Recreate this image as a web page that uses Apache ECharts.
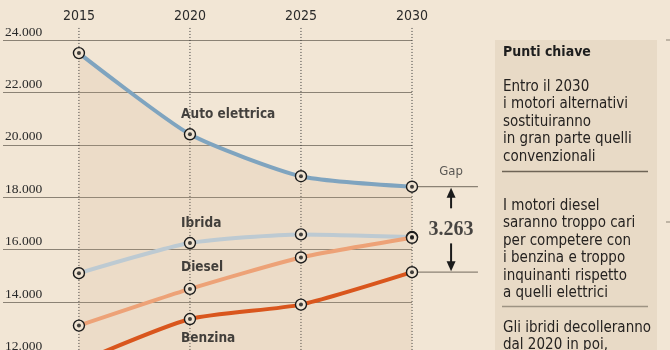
<!DOCTYPE html>
<html>
<head>
<meta charset="utf-8">
<script src="https://cdn.jsdelivr.net/npm/echarts@6/dist/echarts.min.js"></script>
<style>
  html, body { margin: 0; padding: 0; background: #f2e6d5; }
  #main { width: 670px; height: 350px; }
</style>
</head>
<body>
<div id="main"></div>
<script>
// dati
const years = [2015, 2020, 2025, 2030];
const autoElettrica = [23500, 20400, 18800, 18400];
const ibrida = [15100, 16250, 16580, 16480];
const diesel = [13100, 14500, 15700, 16450];
const benzina = [11700, 13350, 13900, 15137];

const seriesNames = ['Auto elettrica', 'Ibrida', 'Diesel', 'Benzina'];
const seriesColors = ['#7fa4bf', '#bdcad2', '#eda277', '#d9561d'];
// posizione delle etichette (anno, valore)
const labelX = [2019.6, 2019.6, 2019.6, 2019.6];
const labelY = [21170, 16990, 15330, 12590];

const yMin = 10000, yMax = 24000, yStep = 2000;
const xMin = 2011.58, xMax = 2030;
const gapX = 2031.76, gapEnd = 2032.97;
const guideTop = 24460;
const arrowFrom = [17576, 16237];

const panelTitle = 'Punti chiave';
const panelBlocks = [
  ['Entro il 2030', 'i motori alternativi', 'sostituiranno', 'in gran parte quelli', 'convenzionali'],
  ['I motori diesel', 'saranno troppo cari', 'per competere con', 'i benzina e troppo', 'inquinanti rispetto', 'a quelli elettrici'],
  ['Gli ibridi decolleranno', 'dal 2020 in poi,']
];

const fmt = v => String(Math.round(v)).replace(/\B(?=(\d{3})+(?!\d))/g, '.');
const gap = autoElettrica[3] - benzina[3];

const allSeries = [autoElettrica, ibrida, diesel, benzina];
const SANS = '"DejaVu Sans Condensed", sans-serif';

const chart = echarts.init(document.getElementById('main'));

const lineSeries = allSeries.map((vals, i) => ({
  type: 'line',
  name: seriesNames[i],
  data: years.map((y, k) => [y, vals[k]]),
  smooth: 0.2,
  clip: false,
  symbol: 'circle',
  symbolSize: 11,
  showSymbol: true,
  z: 3,
  itemStyle: { color: '#efe3d2', borderColor: '#1b1b1b', borderWidth: 1.4 },
  lineStyle: { color: seriesColors[i], width: 4 },
  areaStyle: i === 0 ? { color: 'rgba(200,170,132,0.22)', origin: 'start' } : undefined,
  emphasis: { disabled: true }
}));

const dotSeries = {
  type: 'scatter',
  data: allSeries.flatMap(vals => years.map((y, k) => [y, vals[k]])),
  symbolSize: 4,
  itemStyle: { color: '#151515' },
  z: 5,
  clip: false,
  silent: true
};

const labelSeries = {
  type: 'scatter',
  data: seriesNames.map((n, i) => ({ value: [labelX[i], labelY[i]], name: n })),
  symbolSize: 0,
  z: 6,
  clip: false,
  silent: true,
  label: {
    show: true, position: 'right', distance: 0,
    formatter: p => p.name,
    fontFamily: SANS, fontWeight: 'bold', fontSize: 13.5, color: '#161616'
  }
};

const gapLabels = {
  type: 'scatter',
  data: [
    { value: [gapX, 18963], name: 'Gap', label: { fontFamily: SANS, fontSize: 13, color: '#333' } },
    { value: [gapX, 16772], name: fmt(gap), label: { fontFamily: '"Liberation Serif", serif', fontWeight: 'bold', fontSize: 20, color: '#1b1b1b' } }
  ],
  symbolSize: 0,
  clip: false,
  silent: true,
  label: { show: true, position: 'inside', formatter: p => p.name }
};

const panelGraphic = [
  { type: 'rect', shape: { x: 495, y: 40, width: 162, height: 320 }, style: { fill: '#e8dac6' }, silent: true },
  { type: 'line', shape: { x1: 502, y1: 171.5, x2: 648, y2: 171.5 }, style: { stroke: '#6e6456', lineWidth: 1.5 } },
  { type: 'line', shape: { x1: 502, y1: 306.5, x2: 648, y2: 306.5 }, style: { stroke: '#9d9383', lineWidth: 1.5 } },
  { type: 'line', shape: { x1: 666, y1: 40, x2: 670, y2: 40 }, style: { stroke: '#8b8275', lineWidth: 1 } },
  { type: 'line', shape: { x1: 666, y1: 222, x2: 670, y2: 222 }, style: { stroke: '#8b8275', lineWidth: 1 } },
  { type: 'text', x: 503, y: 45, style: { text: panelTitle, font: 'bold 14px ' + SANS, fill: '#1e1e1e' } },
  ...panelBlocks.map((lines, i) => ({
    type: 'text', x: 503, y: [78.5, 197.5, 319][i],
    style: { text: lines.join('\n'), fontFamily: SANS, fontSize: 15, lineHeight: 17.4, fill: '#252220' }
  }))
];

chart.setOption({
  backgroundColor: '#f2e6d5',
  animation: false,
  grid: { left: 3, right: 258, top: 40, height: 366.8, outerBoundsMode: 'none', containLabel: false },
  xAxis: {
    type: 'value', position: 'top', min: xMin, max: xMax,
    axisLine: { show: false }, axisTick: { show: false }, splitLine: { show: false },
    axisLabel: {
      customValues: years, margin: 17, formatter: v => String(v),
      fontFamily: SANS, fontSize: 14, color: '#2a2a2a'
    }
  },
  yAxis: {
    type: 'value', min: yMin, max: yMax, interval: yStep,
    axisLine: { show: false }, axisTick: { show: false },
    splitLine: { show: true, lineStyle: { color: '#8b8275', width: 1 } },
    axisLabel: {
      inside: true, margin: 2, verticalAlign: 'bottom', padding: [0, 0, 1, 0],
      formatter: v => fmt(v),
      fontFamily: '"Liberation Serif", "DejaVu Serif", serif', fontSize: 13.5, color: '#2a2a2a'
    }
  },
  series: [...lineSeries, dotSeries, labelSeries, gapLabels]
});

// linee guida e freccette del gap, posizionate con le scale del grafico
const px = p => chart.convertToPixel({ gridIndex: 0 }, p);
const seg = (a, b, style, z) => ({
  type: 'line', z: z, silent: true,
  shape: { x1: a[0], y1: a[1], x2: b[0], y2: b[1] }, style: style
});
const overlay = [];
years.forEach(y => {
  overlay.push(seg(px([y, guideTop]), px([y, yMin]), { stroke: '#3a3a3a', lineWidth: 1, lineDash: [1, 2] }, 2));
});
[autoElettrica[3], benzina[3]].forEach(v => {
  overlay.push(seg(px([xMax, v]), px([gapEnd, v]), { stroke: '#8b8275', lineWidth: 1.2 }, 2));
});
[[arrowFrom[0], autoElettrica[3]], [arrowFrom[1], benzina[3]]].forEach(([from, to]) => {
  const a = px([gapX, from]), b = px([gapX, to]);
  const dir = b[1] < a[1] ? -1 : 1;
  overlay.push(seg(a, [b[0], b[1] - dir * 8], { stroke: '#1b1b1b', lineWidth: 2 }, 4));
  overlay.push({
    type: 'polygon', z: 4, silent: true,
    shape: { points: [[b[0], b[1] - dir * 1], [b[0] - 4.5, b[1] - dir * 11], [b[0] + 4.5, b[1] - dir * 11]] },
    style: { fill: '#1b1b1b' }
  });
});

chart.setOption({ graphic: [...panelGraphic, ...overlay] });
</script>
</body>
</html>
